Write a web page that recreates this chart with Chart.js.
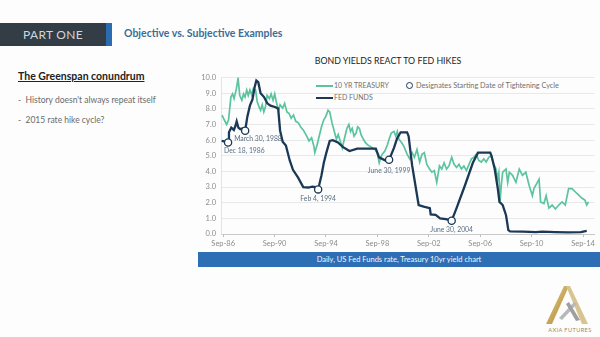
<!DOCTYPE html>
<html>
<head>
<meta charset="utf-8">
<script src="https://cdn.jsdelivr.net/npm/chart.js@4/dist/chart.umd.min.js"></script>
<style>
  html, body { margin: 0; padding: 0; background: #fdfdfd; }
  #slide { position: relative; width: 600px; height: 337px; overflow: hidden; font-family: Lato, "Open Sans", sans-serif; }
  .abs { position: absolute; white-space: nowrap; }
  #partBox { left: 0; top: 23px; width: 106px; height: 23px; background: #323d45; color: #d3d7da; font-size: 12px; letter-spacing: 0.3px; line-height: 23px; text-align: center; }
  #partStripe { left: 106px; top: 23px; width: 6px; height: 23px; background: #2b6cb0; }
  #heading { left: 124px; top: 27px; font-size: 10.5px; font-weight: bold; color: #3c6d96; }
  #subTitle { left: 18px; top: 70px; font-size: 10.5px; font-weight: bold; color: #222; text-decoration: underline; }
  .bullet { left: 18px; font-size: 8.5px; color: #6a6a6a; }
  #chartTitle { left: 310px; top: 55px; width: 156px; text-align: center; font-size: 8.8px; color: #222; }
  .legend { font-size: 7px; color: #707070; }
  .swatch { position: absolute; height: 2px; width: 17px; }
  #ring { left: 406px; top: 82px; width: 5px; height: 5px; border: 1.6px solid #1b3856; border-radius: 50%; }
  #chartBox { left: 190px; top: 68px; width: 410px; height: 185px; }
  #footBar { left: 198px; top: 252px; width: 402px; height: 15px; background: #2e6eb4; color: #f2f6fb; font-size: 7.5px; line-height: 15px; text-align: center; }
</style>
</head>
<body>
<div id="slide">
  <div id="partBox" class="abs">PART ONE</div>
  <div id="partStripe" class="abs"></div>
  <div id="heading" class="abs">Objective vs. Subjective Examples</div>

  <div id="subTitle" class="abs">The Greenspan conundrum</div>
  <div class="abs bullet" style="top:95px">-&nbsp; History doesn't always repeat itself</div>
  <div class="abs bullet" style="top:115px">-&nbsp; 2015 rate hike cycle?</div>

  <div id="chartTitle" class="abs">BOND YIELDS REACT TO FED HIKES</div>

  <div class="swatch" style="left:316px; top:85px; background:#5bc49f"></div>
  <div class="abs legend" style="left:334px; top:81px">10 YR TREASURY</div>
  <div class="swatch" style="left:316px; top:97px; background:#1b3856"></div>
  <div class="abs legend" style="left:334px; top:93px">FED FUNDS</div>
  <div id="ring" class="abs"></div>
  <div class="abs legend" style="left:416px; top:81px; font-size:7.3px">Designates Starting Date of Tightening Cycle</div>

  <div id="chartBox" class="abs"><canvas id="yieldChart" width="410" height="185"></canvas></div>

  <div id="footBar" class="abs">Daily, US Fed Funds rate, Treasury 10yr yield chart</div>

  <svg class="abs" style="left:540px; top:280px" width="60" height="57" viewBox="0 0 60 57">
    <defs>
      <linearGradient id="gold" x1="0" y1="0" x2="1" y2="1">
        <stop offset="0" stop-color="#e8d9a6"/>
        <stop offset="0.5" stop-color="#c9a85a"/>
        <stop offset="1" stop-color="#a8884a"/>
      </linearGradient>
    </defs>
    <polygon points="6,44 24,6 29,6 12,44" fill="url(#gold)"/>
    <polygon points="26,6 30,6 48,44 42,44" fill="#d8c48e"/>
    <polygon points="19,38 34,22 37,24 22,40" fill="#b9b9b9"/>
    <polygon points="26,24 29,22 40,40 36,41" fill="#9f9f9f"/>
    <text x="30" y="52" text-anchor="middle" font-size="5.6" letter-spacing="0.4" fill="#9a8a66" font-family="Lato, sans-serif">AXIA FUTURES</text>
  </svg>
</div>

<script>
// 10 year treasury yield (%), decimal year
const treasuryYears = [
  1986.58, 1986.75, 1986.94, 1987.09, 1987.27, 1987.4, 1987.52, 1987.7, 1987.83, 1987.96,
  1988.12, 1988.25, 1988.37, 1988.5, 1988.62, 1988.75, 1988.88, 1989.02, 1989.19, 1989.32,
  1989.45, 1989.58, 1989.71, 1989.83, 1989.96, 1990.09, 1990.27, 1990.4, 1990.55, 1990.68,
  1990.8, 1990.98, 1991.1, 1991.3, 1991.45, 1991.63, 1991.8, 1991.96, 1992.14, 1992.32,
  1992.52, 1992.73, 1992.9, 1993.17, 1993.35, 1993.55, 1993.73, 1993.8, 1993.98, 1994.14,
  1994.32, 1994.5, 1994.65, 1994.83, 1994.96, 1995.14, 1995.35, 1995.48, 1995.62, 1995.78,
  1995.94, 1996.12, 1996.3, 1996.45, 1996.58, 1996.71, 1996.85, 1997.01, 1997.14, 1997.27,
  1997.4, 1997.58, 1997.73, 1997.9, 1998.09, 1998.3, 1998.5, 1998.68, 1998.81, 1998.93,
  1999.05, 1999.25, 1999.45, 1999.58, 1999.75, 1999.96, 2000.1, 2000.22, 2000.35, 2000.55,
  2000.73, 2000.98, 2001.19, 2001.37, 2001.55, 2001.75, 2001.96, 2002.14, 2002.32, 2002.52,
  2002.73, 2002.91, 2003.1, 2003.29, 2003.5, 2003.68, 2003.86, 2004.05, 2004.24, 2004.45,
  2004.64, 2004.83, 2005.02, 2005.21, 2005.4, 2005.6, 2005.8, 2005.99, 2006.18, 2006.37,
  2006.56, 2006.75, 2006.95, 2007.14, 2007.33, 2007.52, 2007.7, 2007.88, 2008.04, 2008.12,
  2008.22, 2008.32, 2008.42, 2008.68, 2008.81, 2008.94, 2009.19, 2009.45, 2009.71, 2009.96,
  2010.22, 2010.48, 2010.73, 2010.85, 2011.12, 2011.25, 2011.37, 2011.63, 2011.8, 2012.02,
  2012.27, 2012.52, 2012.78, 2013.04, 2013.29, 2013.55, 2013.81, 2014.06, 2014.32, 2014.58,
  2014.83, 2014.96, 2015.1
];
const treasuryYields = [
  7.6, 7.3, 7.0, 7.3, 8.75, 8.95, 8.65, 9.3, 9.95, 8.85,
  8.55, 8.95, 8.75, 9.2, 8.85, 9.2, 8.9, 9.3, 9.2, 8.45,
  8.15, 7.9, 8.25, 7.8, 8.15, 8.85, 8.65, 8.95, 8.55, 8.95,
  8.45, 7.9, 8.25, 8.05, 8.35, 7.8, 7.7, 7.4, 7.6, 7.2,
  7.1, 6.8, 6.65, 6.25, 5.95, 6.15, 5.6, 5.2, 5.7, 6.25,
  6.85, 7.3, 7.5, 7.9, 7.8, 7.1, 6.45, 6.05, 6.35, 5.95,
  5.5, 6.15, 6.75, 7.0, 6.55, 6.75, 6.25, 6.45, 6.85, 6.75,
  6.35, 6.05, 5.85, 5.7, 5.6, 5.5, 5.4, 5.1, 4.55, 4.9,
  5.1, 5.3, 5.7, 6.05, 6.45, 6.55, 6.25, 6.55, 6.05, 5.85,
  5.6, 5.1, 4.8, 5.2, 4.9, 5.4, 4.6, 5.1, 5.2, 4.45,
  4.15, 3.95, 4.05, 3.3, 4.35, 4.15, 4.55, 4.15, 4.35, 4.9,
  4.45, 4.25, 4.45, 4.15, 4.35, 4.05, 4.45, 4.8, 4.9, 5.1,
  4.7, 4.6, 4.8, 4.6, 4.9, 5.0, 4.5, 4.2, 3.55, 3.9,
  2.1, 3.2, 3.95, 4.15, 3.3, 3.95, 3.75, 3.3, 4.15, 3.75,
  3.95, 3.1, 2.45, 2.9, 3.3, 3.5, 2.05, 1.95, 2.45, 1.65,
  1.85, 1.6, 1.85, 2.05, 1.85, 2.9, 2.9, 2.7, 2.5, 2.3,
  2.15, 1.85, 2.05
];

// effective fed funds rate (%)
const fedYears = [
  1986.55, 1986.85, 1987.05, 1987.12, 1987.3, 1987.5, 1987.62, 1987.72, 1987.85, 1988.0,
  1988.2, 1988.38, 1988.55, 1988.75, 1988.95, 1989.12, 1989.25, 1989.4, 1989.58, 1989.85,
  1990.1, 1990.35, 1990.75, 1990.95, 1991.1, 1991.3, 1991.55, 1991.85, 1992.1, 1992.5,
  1992.9, 1993.3, 1993.6, 1993.9, 1994.06, 1994.32, 1994.5, 1994.7, 1994.96, 1995.2,
  1995.6, 1996.0, 1996.5, 1997.1, 1997.8, 1998.55, 1998.8, 1999.3, 1999.58, 1999.96,
  2000.2, 2000.48, 2000.98, 2001.1, 2001.37, 2001.63, 2001.88, 2002.27, 2002.75, 2002.82,
  2003.2, 2003.55, 2004.0, 2004.45, 2004.83, 2005.48, 2006.1, 2006.5, 2007.45, 2007.55,
  2007.8, 2008.04, 2008.17, 2008.42, 2008.68, 2008.86, 2009.0, 2010.0, 2011.0, 2011.5,
  2012.5, 2013.5, 2014.5, 2014.96
];
const fedRates = [
  5.95, 5.9, 5.85, 6.5, 6.8, 6.65, 6.9, 7.2, 6.8, 6.7,
  6.75, 6.6, 7.5, 8.2, 8.6, 9.4, 9.8, 9.7, 9.0, 8.75,
  8.35, 8.2, 8.1, 8.0, 6.6, 5.9, 5.65, 4.7, 4.1, 3.6,
  3.0, 2.97, 3.02, 3.0, 2.85, 3.75, 4.55, 5.2, 5.95, 6.0,
  5.85, 5.55, 5.3, 5.45, 5.45, 5.45, 4.9, 4.7, 4.74, 5.5,
  6.1, 6.5, 6.5, 6.25, 4.4, 3.1, 1.85, 1.75, 1.65, 1.25,
  1.22, 1.0, 0.95, 0.85, 1.65, 3.1, 4.55, 5.2, 5.2, 5.0,
  4.15, 2.9, 2.05, 1.85, 1.2, 0.25, 0.17, 0.15, 0.12, 0.15,
  0.12, 0.1, 0.12, 0.2
];

// start of each tightening cycle
const tighteningYears = [1987.05, 1988.38, 1994.06, 1999.58, 2004.45];
const tighteningRates = [5.85, 6.6, 2.85, 4.74, 0.85];
const tighteningLabels = ["Dec 18, 1986", "March 30, 1988", "Feb 4, 1994", "June 30, 1999", "June 30, 2004"];

const xTickValues = [1986.67, 1990.67, 1994.67, 1998.67, 2002.67, 2006.67, 2010.67, 2014.67];
const xTickLabels = ["Sep-86", "Sep-90", "Sep-94", "Sep-98", "Sep-02", "Sep-06", "Sep-10", "Sep-14"];

const toPoints = (xs, ys) => xs.map((x, i) => ({ x: x, y: ys[i] }));

// where each cycle label sits relative to its marker
const labelPlacement = [
  { dx: -4, dy: 8, align: "left" },
  { dx: -11, dy: 8, align: "left" },
  { dx: 0, dy: 9, align: "center" },
  { dx: 0, dy: 11, align: "center" },
  { dx: 0, dy: 9, align: "center" }
];

const cycleLabels = {
  id: "cycleLabels",
  afterDatasetsDraw(chart) {
    const meta = chart.getDatasetMeta(2);
    const ctx = chart.ctx;
    ctx.save();
    ctx.font = "6.8px Lato, sans-serif";
    ctx.fillStyle = "#5d7085";
    ctx.textBaseline = "middle";
    meta.data.forEach((pt, i) => {
      const p = labelPlacement[i];
      ctx.textAlign = p.align;
      ctx.fillText(tighteningLabels[i], pt.x + p.dx, pt.y + p.dy);
    });
    ctx.restore();
  }
};

new Chart(document.getElementById("yieldChart"), {
  type: "line",
  data: {
    datasets: [
      {
        label: "10 YR TREASURY",
        data: toPoints(treasuryYears, treasuryYields),
        borderColor: "#5bc49f",
        borderWidth: 1.7,
        pointRadius: 0,
        tension: 0,
        order: 2
      },
      {
        label: "FED FUNDS",
        data: toPoints(fedYears, fedRates),
        borderColor: "#1b3856",
        borderWidth: 2.3,
        pointRadius: 0,
        tension: 0,
        order: 1
      },
      {
        label: "Tightening start",
        data: toPoints(tighteningYears, tighteningRates),
        showLine: false,
        pointRadius: 3.6,
        pointBackgroundColor: "#ffffff",
        pointBorderColor: "#1b3856",
        pointBorderWidth: 1.3,
        order: 0
      }
    ]
  },
  options: {
    responsive: false,
    animation: false,
    devicePixelRatio: 1,
    layout: { padding: { top: 7, right: 2, left: 0, bottom: 0 } },
    plugins: {
      legend: { display: false },
      tooltip: { enabled: false }
    },
    scales: {
      x: {
        type: "linear",
        min: 1986.5,
        max: 2015.58,
        afterBuildTicks: scale => {
          scale.ticks = xTickValues.map(v => ({ value: v }));
        },
        afterFit: scale => { scale.height = 19; },
        ticks: {
          callback: (value, index) => xTickLabels[index],
          color: "#8c8c8c",
          font: { family: "Lato", size: 7.5 },
          padding: 2,
          maxRotation: 0,
          autoSkip: false
        },
        grid: { drawOnChartArea: false, tickLength: 3, color: "#bdbdbd" },
        border: { color: "#c8c8c8" }
      },
      y: {
        min: 0,
        max: 10,
        afterFit: scale => { scale.width = 31; },
        ticks: {
          stepSize: 1,
          callback: value => value.toFixed(1),
          color: "#8c8c8c",
          font: { family: "Lato", size: 7.5 },
          padding: 5
        },
        grid: { color: "#e9e9e9", drawTicks: false },
        border: { color: "#e4e4e4" }
      }
    }
  },
  plugins: [cycleLabels]
});
</script>
</body>
</html>
